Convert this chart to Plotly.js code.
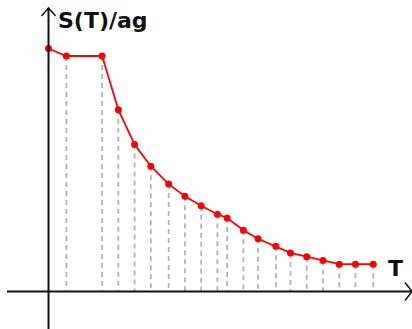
<!DOCTYPE html>
<html>
<head>
<meta charset="utf-8">
<script src="https://cdn.plot.ly/plotly-3.0.1.min.js"></script>
<style>html,body{margin:0;padding:0;background:#fff;}#chart{width:412px;height:329px;}</style>
</head>
<body>
<div id="chart"></div>
<script>
// Period T (s) and normalised spectral ordinate S(T)/ag
const periods = [0, 0.11, 0.33, 0.43, 0.53, 0.63, 0.74, 0.84, 0.94, 1.04, 1.10, 1.20, 1.29, 1.40, 1.49, 1.59, 1.69, 1.79, 1.89, 2.00];
const spectrum = [2.58, 2.50, 2.50, 1.93, 1.56, 1.33, 1.14, 1.01, 0.91, 0.82, 0.78, 0.65, 0.56, 0.48, 0.41, 0.37, 0.33, 0.29, 0.29, 0.29];
const yLabel = "S(T)/ag";
const xLabel = "T";

const W = 412, H = 329;
const xRange = [-0.2987, 2.2383];
const yRange = [-0.3981, 3.0945];
const px2x = p => xRange[0] + p / W * (xRange[1] - xRange[0]);
const px2y = p => yRange[1] - p / H * (yRange[1] - yRange[0]);
const dx = p => p / W * (xRange[1] - xRange[0]);
const dy = p => p / H * (yRange[1] - yRange[0]);

// drop lines from each point to the T axis
const dropX = [], dropY = [];
for (let i = 1; i < periods.length; i++) {
  dropX.push(periods[i], periods[i], null);
  dropY.push(spectrum[i], 0, null);
}

const traces = [
  {x: dropX, y: dropY, mode: 'lines', type: 'scatter',
   line: {color: '#b4b4b4', width: 1.8, dash: '5px,4px'}, hoverinfo: 'skip'},
  {x: periods, y: spectrum, mode: 'lines+markers', type: 'scatter',
   line: {color: '#ff0000', width: 1.8}, marker: {color: '#ff0000', size: 7}, hoverinfo: 'skip'}
];

const axisCol = '#111';
const yTop = px2y(8), xLeft = px2x(7), xRight = px2x(412), yBottom = yRange[0];
const shapes = [
  {type: 'line', x0: 0, x1: 0, y0: yBottom, y1: yTop, line: {color: axisCol, width: 2}},
  {type: 'line', x0: xLeft, x1: xRight, y0: 0, y1: 0, line: {color: axisCol, width: 2}},
  {type: 'path', path: `M${-dx(7)},${yTop - dy(8)} L0,${yTop} L${dx(7)},${yTop - dy(8)}`, line: {color: axisCol, width: 1.5}},
  {type: 'path', path: `M${xRight - dx(7)},${dy(9)} L${xRight},0 L${xRight - dx(7)},${-dy(9)}`, line: {color: axisCol, width: 1.5}}
];

const layout = {
  width: W, height: H,
  margin: {l: 0, r: 0, t: 0, b: 0},
  paper_bgcolor: '#fff', plot_bgcolor: '#fff',
  showlegend: false,
  xaxis: {range: xRange, visible: false, fixedrange: true},
  yaxis: {range: yRange, visible: false, fixedrange: true},
  shapes: shapes,
  annotations: [
    {text: yLabel, xref: 'paper', yref: 'paper', x: 56 / W, y: 1 - 21 / H,
     xanchor: 'left', yanchor: 'middle', showarrow: false,
     font: {family: 'DejaVu Sans', size: 22, color: '#111'}},
    {text: xLabel, xref: 'paper', yref: 'paper', x: 395 / W, y: 1 - 268 / H,
     xanchor: 'center', yanchor: 'middle', showarrow: false,
     font: {family: 'DejaVu Sans', size: 22, color: '#111'}}
  ]
};
layout.annotations.forEach(a => { a.text = '<b>' + a.text + '</b>'; });

Plotly.newPlot('chart', traces, layout, {staticPlot: true, displayModeBar: false});
</script>
</body>
</html>
